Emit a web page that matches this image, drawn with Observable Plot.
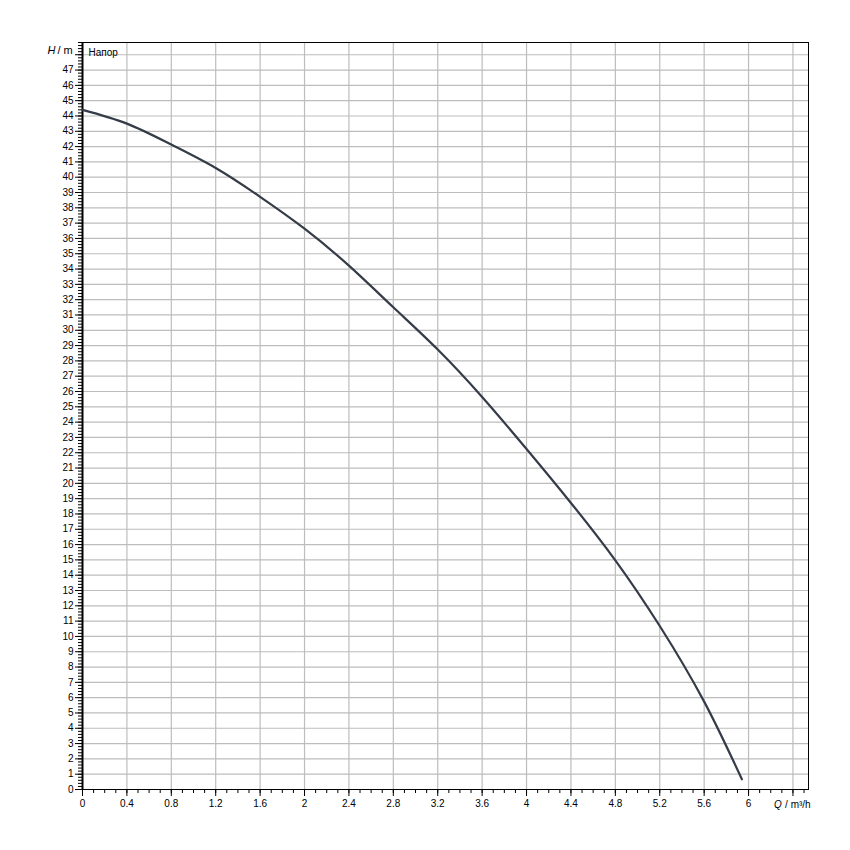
<!DOCTYPE html>
<html>
<head>
<meta charset="utf-8">
<script src="https://cdn.jsdelivr.net/npm/d3@7"></script>
<script src="https://cdn.jsdelivr.net/npm/@observablehq/plot@0.6"></script>
<style>
  body { margin: 0; background: #fff; }
</style>
</head>
<body>
<div id="chart"></div>
<script>
// Pump curve data
const flowQ = [0, 0.4, 0.8, 1.2, 1.6, 2.0, 2.4, 2.8, 3.2, 3.6, 4.0, 4.4, 4.8, 5.2, 5.6, 5.94];
const headH = [44.4, 43.5, 42.13, 40.6, 38.72, 36.64, 34.22, 31.5, 28.74, 25.64, 22.24, 18.72, 14.97, 10.68, 5.74, 0.67];

// Axis ticks
const xTickLabels = [0, 0.4, 0.8, 1.2, 1.6, 2, 2.4, 2.8, 3.2, 3.6, 4, 4.4, 4.8, 5.2, 5.6, 6];
const xMajorTicks = [0, 0.4, 0.8, 1.2, 1.6, 2, 2.4, 2.8, 3.2, 3.6, 4, 4.4, 4.8, 5.2, 5.6, 6, 6.4];
const xMinorTicks = d3.range(0, 66).map(i => i / 10);
const xGrid = [0.4, 0.8, 1.2, 1.6, 2, 2.4, 2.8, 3.2, 3.6, 4, 4.4, 4.8, 5.2, 5.6, 6, 6.4];
const yTickLabels = d3.range(0, 48);
const yMajorTicks = d3.range(0, 49);
const yMinorTicks = d3.range(0, 245).map(i => i / 5);
const yGrid = d3.range(1, 49);

const xTitle = ["Q", "/ m³/h"];
const yTitle = ["H", "/ m"];
const seriesName = "Напор";

const curve = flowQ.map((q, i) => ({q, h: headH[i]}));

const chart = Plot.plot({
  width: 850,
  height: 850,
  marginLeft: 82,
  marginRight: 42,
  marginTop: 42,
  marginBottom: 61,
  style: {fontFamily: "'Liberation Sans', Arial, sans-serif", fontSize: "10px", color: "#000", background: "#fff"},
  x: {domain: [0, 6.54]},
  y: {domain: [0, 48.8]},
  marks: [
    Plot.ruleX(xGrid, {stroke: "#bdbdbd", strokeWidth: 1.2, strokeOpacity: 1}),
    Plot.ruleY(yGrid, {stroke: "#bdbdbd", strokeWidth: 1.2, strokeOpacity: 1}),
    Plot.axisX(xMajorTicks, {tickSize: 7, tickPadding: 3, tickFormat: d => xTickLabels.includes(d) ? String(d) : "", label: null, stroke: "#000"}),
    Plot.axisX(xMinorTicks, {tickSize: 4, tickFormat: () => "", label: null, stroke: "#000"}),
    Plot.axisY(yMajorTicks, {tickSize: 7, tickPadding: 2, tickFormat: d => yTickLabels.includes(d) ? String(d) : "", label: null, stroke: "#000"}),
    Plot.axisY(yMinorTicks, {tickSize: 4, tickFormat: () => "", label: null, stroke: "#000"}),
    Plot.frame({stroke: "#000", strokeWidth: 1}),
    Plot.ruleX([0], {stroke: "#000", strokeWidth: 2}),
    Plot.line(curve, {x: "q", y: "h", curve: "natural", stroke: "#353c48", strokeWidth: 2.2}),
    Plot.text([seriesName], {x: () => 0, y: () => 48.8, text: d => d, dx: 6, dy: 10, textAnchor: "start", fill: "#000", fontSize: 10}),
    Plot.text([yTitle[0]], {x: () => 0, y: () => 48.25, text: d => d, dx: -35, textAnchor: "start", fontStyle: "italic", fill: "#000", fontSize: 11, clip: false}),
    Plot.text([yTitle[1]], {x: () => 0, y: () => 48.25, text: d => d, dx: -25, textAnchor: "start", fill: "#000", fontSize: 11, clip: false}),
    Plot.text([xTitle[0]], {x: () => 6.23, y: () => 0, text: d => d, dy: 15, textAnchor: "start", fontStyle: "italic", fill: "#000", fontSize: 10, clip: false}),
    Plot.text([xTitle[1]], {x: () => 6.23, y: () => 0, text: d => d, dx: 11, dy: 15, textAnchor: "start", fill: "#000", fontSize: 10, clip: false})
  ]
});
document.getElementById("chart").appendChild(chart);
</script>
</body>
</html>
